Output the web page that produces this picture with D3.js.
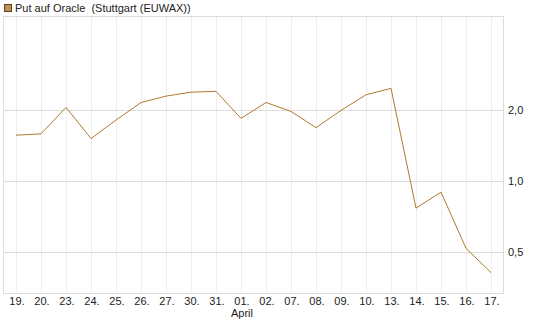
<!DOCTYPE html>
<html>
<head>
<meta charset="utf-8">
<script src="https://cdn.jsdelivr.net/npm/d3@7"></script>
<style>
    body { margin: 0; background: #fff; }
    svg { display: block; font-family: "Liberation Sans", Arial, sans-serif; }
</style>
</head>
<body>
<div id="chart"></div>
<script>
// day labels along the bottom
const days = ["19.", "20.", "23.", "24.", "25.", "26.", "27.", "30.", "31.", "01.", "02.",
    "07.", "08.", "09.", "10.", "13.", "14.", "15.", "16.", "17."];
// closing prices
const prices = [1.57, 1.59, 2.06, 1.52, 1.82, 2.16, 2.30, 2.39, 2.41, 1.85, 2.16,
    1.98, 1.69, 2.00, 2.33, 2.48, 0.77, 0.90, 0.52, 0.41];
const yTicks = [0.5, 1, 2];
const monthLabels = [{ day: "01.", text: "April" }];
const title = "Put auf Oracle  (Stuttgart (EUWAX))";

const width = 545, height = 327;
const plot = { left: 3, right: 503, top: 16, bottom: 293 };

const svg = d3.select("#chart").append("svg")
    .attr("width", width)
    .attr("height", height);

const x = d3.scalePoint()
    .domain(days)
    .range([16, 491]);

const y = d3.scaleLog()
    .domain([0.336, 5.03])
    .range([plot.bottom, plot.top]);

// vertical grid
svg.append("g")
    .selectAll("line")
    .data(days)
    .enter().append("line")
    .attr("x1", d => x(d) + 0.5).attr("x2", d => x(d) + 0.5)
    .attr("y1", plot.top).attr("y2", plot.bottom)
    .attr("stroke", "#eeeeee");

// horizontal grid at the ticks
svg.append("g")
    .selectAll("line")
    .data(yTicks)
    .enter().append("line")
    .attr("x1", plot.left).attr("x2", plot.right)
    .attr("y1", d => Math.round(y(d)) + 0.5).attr("y2", d => Math.round(y(d)) + 0.5)
    .attr("stroke", "#dddddd");

// frame
svg.append("rect")
    .attr("x", plot.left + 0.5).attr("y", plot.top + 0.5)
    .attr("width", plot.right - plot.left).attr("height", plot.bottom - plot.top)
    .attr("fill", "none")
    .attr("stroke", "#dddddd");

// price line
const line = d3.line()
    .x((d, i) => x(days[i]))
    .y(d => y(d));

svg.append("path")
    .datum(prices)
    .attr("d", line)
    .attr("fill", "none")
    .attr("stroke", "#b07a2e")
    .attr("stroke-width", 1);

// y axis labels (right side, German decimal comma)
const fmt = d3.format(".1f");
svg.append("g")
    .selectAll("text")
    .data(yTicks)
    .enter().append("text")
    .attr("x", 508)
    .attr("y", d => y(d) + 4)
    .attr("font-size", 11)
    .attr("fill", "#222")
    .text(d => fmt(d).replace(".", ","));

// x axis labels
svg.append("g")
    .selectAll("text")
    .data(days)
    .enter().append("text")
    .attr("x", d => x(d) + 1)
    .attr("y", 305)
    .attr("text-anchor", "middle")
    .attr("font-size", 11)
    .attr("fill", "#222")
    .text(d => d);

svg.append("g")
    .selectAll("text")
    .data(monthLabels)
    .enter().append("text")
    .attr("x", d => x(d.day) + 1)
    .attr("y", 317)
    .attr("text-anchor", "middle")
    .attr("font-size", 11)
    .attr("fill", "#222")
    .text(d => d.text);

// legend, white box hides the top border behind it
const legend = svg.append("g");
legend.append("rect")
    .attr("x", 0).attr("y", 0)
    .attr("width", 200).attr("height", plot.top)
    .attr("fill", "#fff");
legend.append("rect")
    .attr("x", 4.5).attr("y", 4.5)
    .attr("width", 7).attr("height", 7)
    .attr("fill", "#c0905a")
    .attr("stroke", "#5a4020");
legend.append("text")
    .attr("x", 15)
    .attr("y", 12)
    .attr("font-size", 11)
    .attr("fill", "#222")
    .style("white-space", "pre")
    .text(title);
</script>
</body>
</html>
